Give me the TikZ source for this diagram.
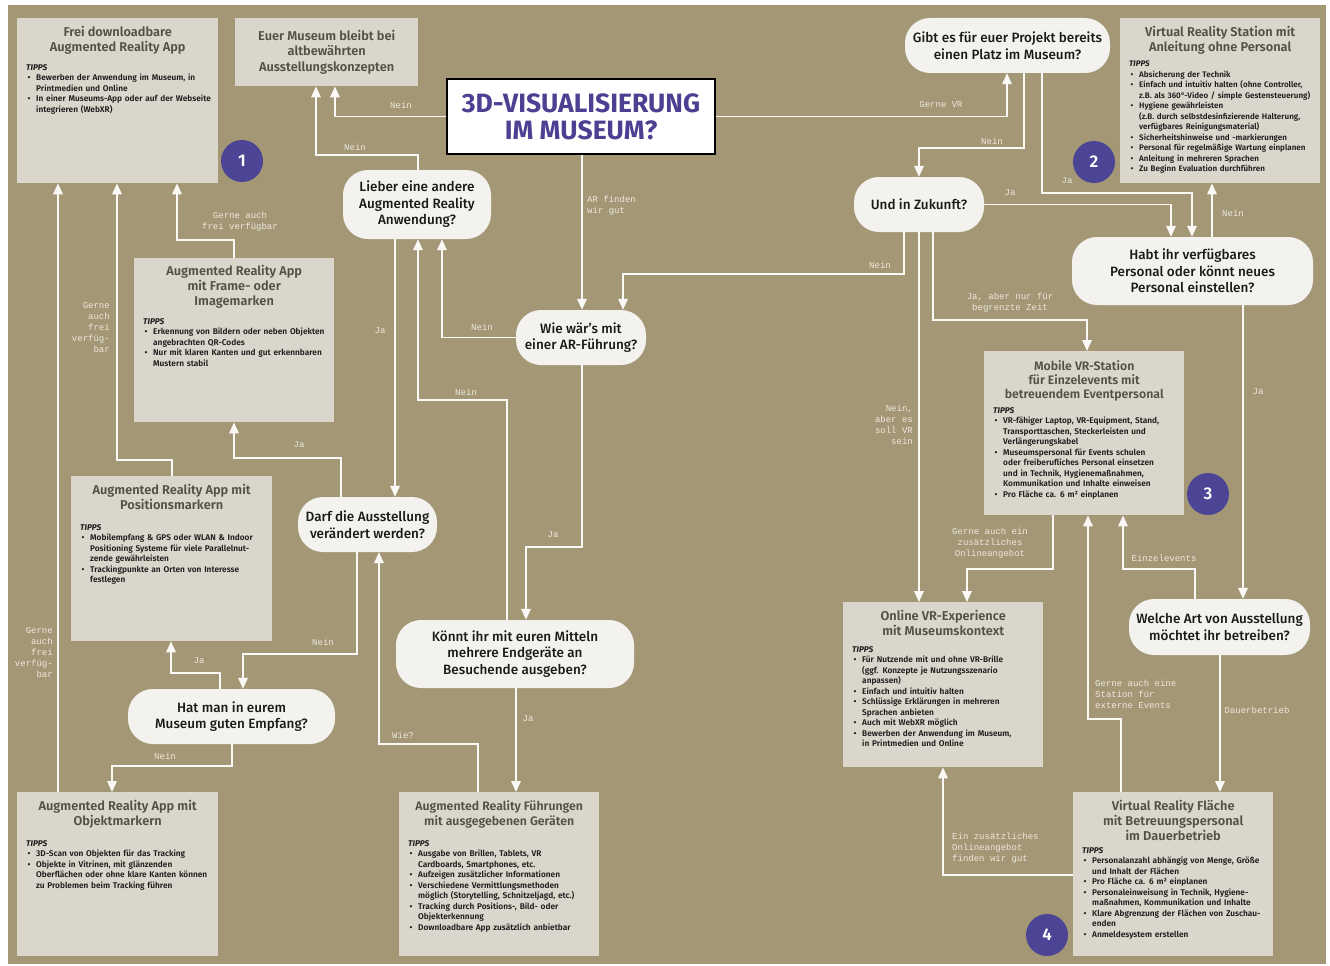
\documentclass[tikz,border=0pt]{standalone}
\usepackage{fontspec}
\setmainfont{Fira Sans}[UprightFont=* Medium, BoldFont=* SemiBold, ItalicFont=* Medium Italic, BoldItalicFont=* Bold Italic]
\newfontfamily\heavyfont{Fira Sans}[UprightFont=* Bold]
\newfontfamily\lblfont{Liberation Mono}
\usetikzlibrary{arrows.meta,calc}
\definecolor{bg}{RGB}{163,151,118}
\definecolor{boxc}{RGB}{218,214,203}
\definecolor{qc}{RGB}{243,242,238}
\definecolor{linec}{RGB}{250,249,245}
\definecolor{lblc}{RGB}{236,232,220}
\definecolor{purp}{RGB}{76,68,148}
\definecolor{purpT}{RGB}{75,64,145}
\definecolor{titc}{RGB}{84,80,70}
\definecolor{tipc}{RGB}{28,28,28}
\newcommand\nl{\hfil\break}
\newcommand\tipitem[1]{\par\noindent\hangindent=10pt\hangafter=1\makebox[10pt][l]{\kern1.5pt•}#1\par}
\newcommand\tipshead{{\bfseries\itshape TIPPS}}
\tikzset{
 box/.style={fill=boxc, draw=none, anchor=north west, inner sep=0},
 btitle/.style={anchor=north, align=center, inner sep=0, text=titc, font=\fontsize{12.8}{15}\selectfont\bfseries},
 tips/.style={anchor=north west, align=left, inner sep=0, text width=215, text=tipc, font=\fontsize{8.3}{10.5}\selectfont\bfseries},
 qn/.style={fill=qc, rounded corners=25, align=center, inner sep=0, text=black!90, font=\fontsize{13.5}{16.5}\selectfont},
 num/.style={circle, fill=purp, text=white, minimum size=42, inner sep=0, font=\fontsize{17}{17}\selectfont\bfseries},
 lbl/.style={text=lblc, inner sep=0, font=\lblfont\fontsize{9}{11}\selectfont, align=center},
 arr/.style={draw=linec, line width=1.8pt, -{Triangle[length=11pt,width=9.5pt]}},
}
\begin{document}
\begin{tikzpicture}[x=1pt,y=-1pt]
\useasboundingbox (0,0) rectangle (1330,966);
\fill[white] (0,0) rectangle (1330,966);
\fill[bg] (8,5) rectangle (1326,964);

% ---------- title ----------
\node[draw=black, line width=2pt, fill=white, minimum width=268, minimum height=75, text=purpT, align=center, inner sep=0, font=\heavyfont\fontsize{26.5}{27}\selectfont] (T) at (581,116.5) {3D-VISUALISIERUNG\\IM MUSEUM?};

% ---------- boxes ----------
\node[box, minimum width=201, minimum height=165] (b1) at (17,18) {};
\node[btitle] (b1t) at ($(b1.north)+(0,8)$) {Frei downloadbare\\Augmented Reality App};
\node[tips] (b1l) at ($(b1.north west)+(9,46)$) {\tipshead
\tipitem{Bewerben der Anwendung im Museum, in\nl Printmedien und Online}
\tipitem{In einer Museums-App oder auf der Webseite\nl integrieren (WebXR)}};

\node[box, minimum width=183, minimum height=68] (b2) at (235,18) {};
\node[btitle, anchor=center, font=\fontsize{12.8}{15.5}\selectfont\bfseries] (b2t) at (b2.center) {Euer Museum bleibt bei\\altbewährten\\Ausstellungskonzepten};

\node[box, minimum width=200, minimum height=164] (b3) at (134,258) {};
\node[btitle] (b3t) at ($(b3.north)+(0,7)$) {Augmented Reality App\\mit Frame- oder\\Imagemarken};
\node[tips] (b3l) at ($(b3.north west)+(9,60)$) {\tipshead
\tipitem{Erkennung von Bildern oder neben Objekten\nl angebrachten QR-Codes}
\tipitem{Nur mit klaren Kanten und gut erkennbaren\nl Mustern stabil}};

\node[box, minimum width=201, minimum height=165] (b4) at (71,476) {};
\node[btitle] (b4t) at ($(b4.north)+(0,8)$) {Augmented Reality App mit\\Positionsmarkern};
\node[tips] (b4l) at ($(b4.north west)+(9,48)$) {\tipshead
\tipitem{Mobilempfang \& GPS oder WLAN \& Indoor\nl Positioning Systeme für viele Parallelnut-\nl zende gewährleisten}
\tipitem{Trackingpunkte an Orten von Interesse\nl festlegen}};

\node[box, minimum width=201, minimum height=164] (b5) at (17,792) {};
\node[btitle] (b5t) at ($(b5.north)+(0,8)$) {Augmented Reality App mit\\Objektmarkern};
\node[tips] (b5l) at ($(b5.north west)+(9,48)$) {\tipshead
\tipitem{3D-Scan von Objekten für das Tracking}
\tipitem{Objekte in Vitrinen, mit glänzenden\nl Oberflächen oder ohne klare Kanten können\nl zu Problemen beim Tracking führen}};

\node[box, minimum width=200, minimum height=164] (b6) at (399,792) {};
\node[btitle, font=\fontsize{12.3}{15}\selectfont\bfseries] (b6t) at ($(b6.north)+(0,8)$) {Augmented Reality Führungen\\mit ausgegebenen Geräten};
\node[tips] (b6l) at ($(b6.north west)+(9,48)$) {\tipshead
\tipitem{Ausgabe von Brillen, Tablets, VR\nl Cardboards, Smartphones, etc.}
\tipitem{Aufzeigen zusätzlicher Informationen}
\tipitem{Verschiedene Vermittlungsmethoden\nl möglich (Storytelling, Schnitzeljagd, etc.)}
\tipitem{Tracking durch Positions-, Bild- oder\nl Objekterkennung}
\tipitem{Downloadbare App zusätzlich anbietbar}};

\node[box, minimum width=200, minimum height=165] (b7) at (1120,18) {};
\node[btitle] (b7t) at ($(b7.north)+(0,8)$) {Virtual Reality Station mit\\Anleitung ohne Personal};
\node[tips, font=\fontsize{8.05}{10.5}\selectfont\bfseries] (b7l) at ($(b7.north west)+(9,43)$) {\tipshead
\tipitem{Absicherung der Technik}
\tipitem{Einfach und intuitiv halten (ohne Controller,\nl z.B. als 360°-Video / simple Gestensteuerung)}
\tipitem{Hygiene gewährleisten\nl (z.B. durch selbstdesinfizierende Halterung,\nl verfügbares Reinigungsmaterial)}
\tipitem{Sicherheitshinweise und -markierungen}
\tipitem{Personal für regelmäßige Wartung einplanen}
\tipitem{Anleitung in mehreren Sprachen}
\tipitem{Zu Beginn Evaluation durchführen}};

\node[box, minimum width=200, minimum height=164] (b8) at (984,351) {};
\node[btitle, font=\fontsize{12.3}{14}\selectfont\bfseries] (b8t) at ($(b8.north)+(0,9)$) {Mobile VR-Station\\für Einzelevents mit\\betreuendem Eventpersonal};
\node[tips] (b8l) at ($(b8.north west)+(9,56)$) {\tipshead
\tipitem{VR-fähiger Laptop, VR-Equipment, Stand,\nl Transporttaschen, Steckerleisten und\nl Verlängerungskabel}
\tipitem{Museumspersonal für Events schulen\nl oder freiberufliches Personal einsetzen\nl und in Technik, Hygienemaßnahmen,\nl Kommunikation und Inhalte einweisen}
\tipitem{Pro Fläche ca. 6 m² einplanen}};

\node[box, minimum width=200, minimum height=165] (b9) at (843,602) {};
\node[btitle] (b9t) at ($(b9.north)+(0,8)$) {Online VR-Experience\\mit Museumskontext};
\node[tips] (b9l) at ($(b9.north west)+(9,44)$) {\tipshead
\tipitem{Für Nutzende mit und ohne VR-Brille\nl (ggf. Konzepte je Nutzungsszenario\nl anpassen)}
\tipitem{Einfach und intuitiv halten}
\tipitem{Schlüssige Erklärungen in mehreren\nl Sprachen anbieten}
\tipitem{Auch mit WebXR möglich}
\tipitem{Bewerben der Anwendung im Museum,\nl in Printmedien und Online}};

\node[box, minimum width=200, minimum height=164] (b10) at (1073,792) {};
\node[btitle] (b10t) at ($(b10.north)+(0,8)$) {Virtual Reality Fläche\\mit Betreuungspersonal\\im Dauerbetrieb};
\node[tips] (b10l) at ($(b10.north west)+(9,55)$) {\tipshead
\tipitem{Personalanzahl abhängig von Menge, Größe\nl und Inhalt der Flächen}
\tipitem{Pro Fläche ca. 6 m² einplanen}
\tipitem{Personaleinweisung in Technik, Hygiene-\nl maßnahmen, Kommunikation und Inhalte}
\tipitem{Klare Abgrenzung der Flächen von Zuschau-\nl enden}
\tipitem{Anmeldesystem erstellen}};

% ---------- questions ----------
\node[qn, minimum width=148, minimum height=69] (q1) at (417,204.5) {Lieber eine andere\\Augmented Reality\\Anwendung?};
\node[qn, minimum width=130, minimum height=55] (q2) at (581,337.5) {Wie wär's mit\\einer AR-Führung?};
\node[qn, minimum width=139, minimum height=55] (q3) at (367.5,524.5) {Darf die Ausstellung\\verändert werden?};
\node[qn, minimum width=207, minimum height=55] (q4) at (231.5,716.5) {Hat man in eurem\\Museum guten Empfang?};
\node[qn, minimum width=238, minimum height=68] (q5) at (515,654) {Könnt ihr mit euren Mitteln\\mehrere Endgeräte an\\Besuchende ausgeben?};
\node[qn, minimum width=205, minimum height=55] (q6) at (1007.5,45.5) {Gibt es für euer Projekt bereits\\einen Platz im Museum?};
\node[qn, minimum width=130, minimum height=55] (q7) at (919,204.5) {Und in Zukunft?};
\node[qn, minimum width=241, minimum height=68] (q8) at (1192.5,271) {Habt ihr verfügbares\\Personal oder könnt neues\\Personal einstellen?};
\node[qn, minimum width=181, minimum height=56] (q9) at (1219.5,627) {Welche Art von Ausstellung\\möchtet ihr betreiben?};

% ---------- numbers ----------
\node[num] (c1) at (242,161) {1};
\node[num] (c2) at (1094,162) {2};
\node[num] (c3) at (1208,494) {3};
\node[num] (c4) at (1047,935) {4};

% ---------- connectors ----------
\draw[arr] (T.west) -| (b2.south -| 335,0);
\draw[arr] (T.east) -| (q6.south -| 1007,0);
\draw[arr] (T.south -| 582,0) -- (q2.north -| 582,0);
\draw[arr] (q1.north -| 418,0) |- (316,155) -- (b2.south -| 316,0);
\draw[arr] (q1.south -| 395,0) -- (q3.north -| 395,0);
\draw[arr] (q2.west) -| (q1.south -| 442,0);
\draw[arr] (q2.south -| 582,0) |- (526,547) -- (q5.north -| 526,0);
\draw[arr] (q3.north -| 341,0) |- (234,458) -- (b3.south -| 234,0);
\draw[arr] (q3.south -| 357,0) |- (243,654) -- (q4.north -| 243,0);
\draw[arr] (b6.north -| 478,0) |- (379,744) -- (q3.south -| 379,0);
\draw[arr] (q5.north -| 507,0) |- (418,400) -- (q1.south -| 418,0);
\draw[arr] (q5.south -| 516,0) -- (b6.north -| 516,0);
\draw[arr] (q4.north -| 220,0) |- (171,673) -- (b4.south -| 171,0);
\draw[arr] (q4.south -| 232,0) |- (112,766) -- (b5.north -| 112,0);
\draw[arr] (b4.north -| 172,0) |- (117,460) -- (b1.south -| 117,0);
\draw[arr] (b5.north -| 58,0) -- (b1.south -| 58,0);
\draw[arr] (b3.north -| 234,0) |- (177,240) -- (b1.south -| 177,0);
\draw[arr] (q6.south -| 1024,0) |- (919,148) -- (q7.north -| 919,0);
\draw[arr] (q6.south -| 1042,0) |- (1192,193) -- (q8.north -| 1192,0);
\draw[arr] (q7.east) -| (q8.north -| 1171,0);
\draw[arr] (q7.south -| 904,0) |- (623,274) -- (q2.north -| 623,0);
\draw[arr] (q7.south -| 933,0) |- (1087,320) -- (b8.north -| 1087,0);
\draw[arr] (q7.south -| 919,0) -- (b9.north -| 919,0);
\draw[arr] (q8.north -| 1212,0) -- (b7.south -| 1212,0);
\draw[arr] (q8.south -| 1243,0) -- (q9.north -| 1243,0);
\draw[arr] (b8.south -| 1053,0) |- (967,569) -- (b9.north -| 967,0);
\draw[arr] (q9.north -| 1195,0) |- (1123,569) -- (b8.south -| 1123,0);
\draw[arr] (q9.south -| 1220,0) -- (b10.north -| 1220,0);
\draw[arr] (b10.north -| 1121,0) |- (1088,719) -- (b8.south -| 1088,0);
\draw[arr] (b10.west |- 0,875) -| (b9.south -| 943,0);

% ---------- labels ----------
\node[lbl] (l1) at (401,105) {Nein};
\node[lbl] (l2) at (941,105) {Gerne VR};
\node[lbl, anchor=west, align=left] (l3) at (587,206) {AR finden\\wir gut};
\node[lbl] (l4) at (355,147) {Nein};
\node[lbl] (l5) at (380,331) {Ja};
\node[lbl] (l6) at (482,327) {Nein};
\node[lbl] (l7) at (553,535) {Ja};
\node[lbl] (l8) at (299,445) {Ja};
\node[lbl] (l9) at (323,642) {Nein};
\node[lbl] (l10) at (403,735) {Wie?};
\node[lbl] (l11) at (466,392) {Nein};
\node[lbl] (l12) at (528,719) {Ja};
\node[lbl] (l13) at (199,661) {Ja};
\node[lbl] (l14) at (165,756) {Nein};
\node[lbl, anchor=east, align=right] (l15) at (110,328) {Gerne\\auch\\frei\\verfüg-\\bar};
\node[lbl, anchor=east, align=right] (l16) at (53,653) {Gerne\\auch\\frei\\verfüg-\\bar};
\node[lbl] (l17) at (240,222) {Gerne auch\\frei verfügbar};
\node[lbl] (l18) at (992,141) {Nein};
\node[lbl] (l19) at (1067,181) {Ja};
\node[lbl] (l20) at (1010,193) {Ja};
\node[lbl] (l21) at (880,265) {Nein};
\node[lbl] (l22) at (1010,303) {Ja, aber nur für\\begrenzte Zeit};
\node[lbl, anchor=east, align=right] (l23) at (913,425) {Nein,\\aber es\\soll VR\\sein};
\node[lbl] (l24) at (1233,213) {Nein};
\node[lbl] (l25) at (1258,392) {Ja};
\node[lbl] (l26) at (990,543) {Gerne auch ein\\zusätzliches\\Onlineangebot};
\node[lbl] (l27) at (1164,558) {Einzelevents};
\node[lbl] (l28) at (1257,710) {Dauerbetrieb};
\node[lbl, anchor=west, align=left] (l29) at (1095,694) {Gerne auch eine\\Station für\\externe Events};
\node[lbl, anchor=west, align=left] (l30) at (952,848) {Ein zusätzliches\\Onlineangebot\\finden wir gut};
\end{tikzpicture}
\end{document}
